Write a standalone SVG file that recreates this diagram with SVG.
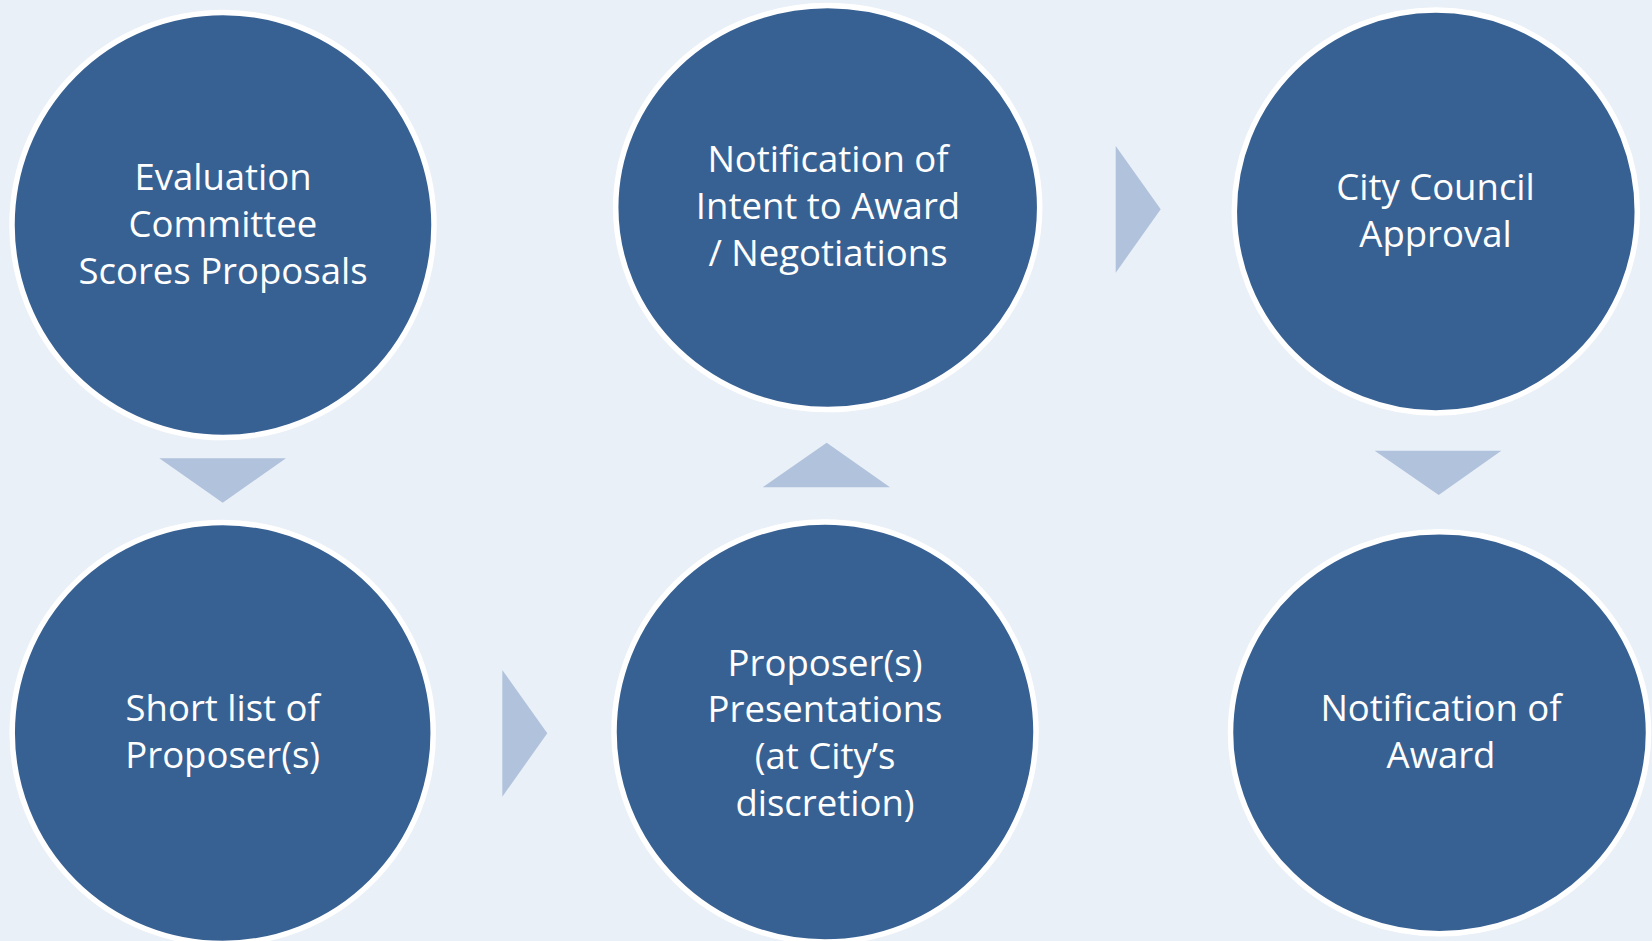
<svg xmlns="http://www.w3.org/2000/svg" width="1652" height="941" viewBox="0 0 1652 941">
  <style>
    .node { fill: #386193; stroke: #FFFFFF; stroke-width: 5.5; }
    .label { font-family: "Open Sans", "Liberation Sans", sans-serif; font-size: 36.5px; fill: #FFFFFF; text-anchor: middle; }
    .arrow { fill: #B1C2DC; stroke: none; }
  </style>
  <rect x="0" y="0" width="1652" height="941" fill="#EAF0F8"/>
  <g id="connectors">
    <polygon class="arrow" points="159.3,458.3 286,458.3 222.7,502.7"/>
    <polygon class="arrow" points="502.3,670 547.3,733.3 502.3,796.7"/>
    <polygon class="arrow" points="762.7,487.3 826.7,442.7 890,487.3"/>
    <polygon class="arrow" points="1115.7,146 1160.7,209.3 1115.7,272.7"/>
    <polygon class="arrow" points="1374.7,450.7 1501.3,450.7 1438.7,495"/>
  </g>
  <g id="node-evaluation">
    <ellipse class="node" cx="223" cy="225" rx="211" ry="212.5"/>
    <text class="label" x="223" y="190">Evaluation</text>
    <text class="label" x="223" y="237">Committee</text>
    <text class="label" x="223" y="284">Scores Proposals</text>
  </g>
  <g id="node-intent">
    <ellipse class="node" cx="827.7" cy="207.5" rx="212" ry="202"/>
    <text class="label" x="828" y="172.3">Notification of</text>
    <text class="label" x="828" y="219">Intent to Award</text>
    <text class="label" x="828" y="265.7">/ Negotiations</text>
  </g>
  <g id="node-council">
    <ellipse class="node" cx="1435.8" cy="211.5" rx="201.5" ry="201.5"/>
    <text class="label" x="1435.5" y="200">City Council</text>
    <text class="label" x="1435.5" y="247.3">Approval</text>
  </g>
  <g id="node-shortlist">
    <ellipse class="node" cx="222.7" cy="733" rx="210.5" ry="210.5"/>
    <text class="label" x="222.7" y="721">Short list of</text>
    <text class="label" x="222.7" y="768.3">Proposer(s)</text>
  </g>
  <g id="node-presentations">
    <ellipse class="node" cx="825" cy="732" rx="211" ry="210"/>
    <text class="label" x="825" y="675.7">Proposer(s)</text>
    <text class="label" x="825" y="722.3">Presentations</text>
    <text class="label" x="825" y="769">(at City’s</text>
    <text class="label" x="825" y="815.7">discretion)</text>
  </g>
  <g id="node-award">
    <ellipse class="node" cx="1439.5" cy="732.7" rx="209" ry="201"/>
    <text class="label" x="1441" y="721">Notification of</text>
    <text class="label" x="1441" y="767.7">Award</text>
  </g>
</svg>
